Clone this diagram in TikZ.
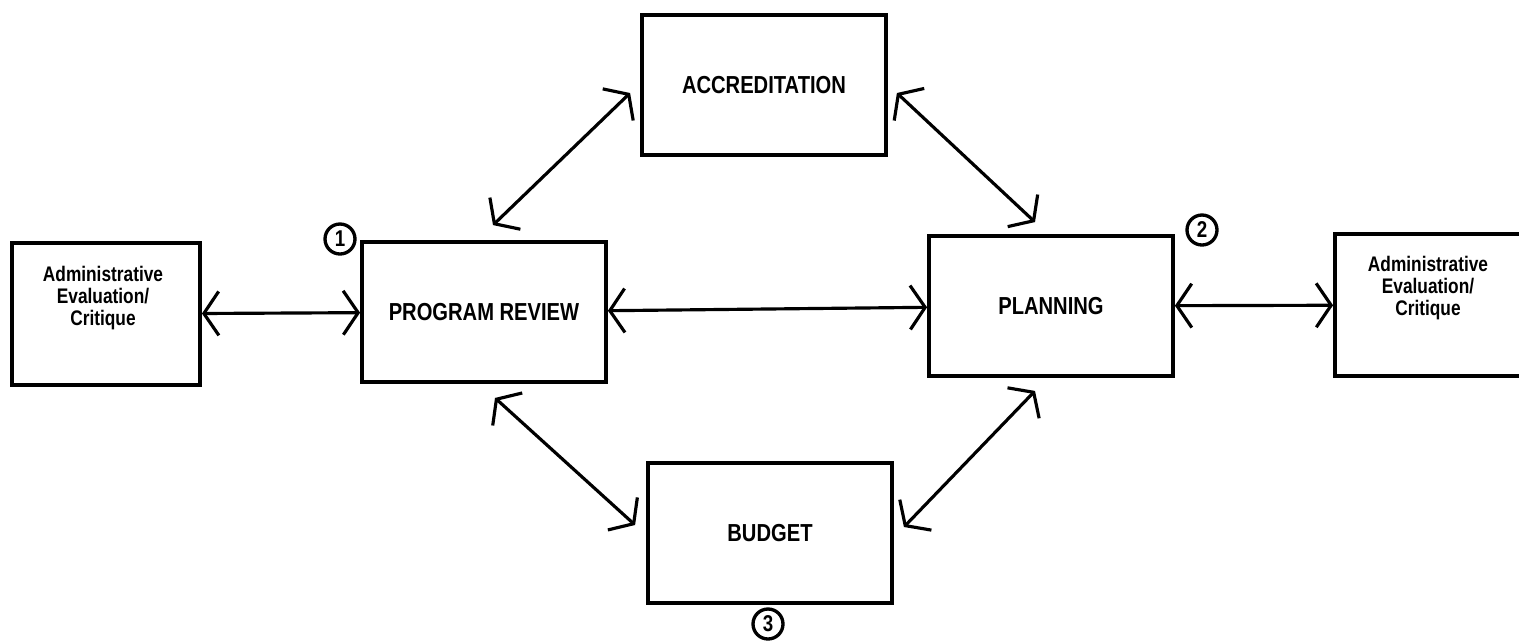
\documentclass[tikz,border=0pt]{standalone}
\usepackage{fontspec}
\setmainfont{Liberation Sans}[FakeStretch=0.82]
\usetikzlibrary{arrows.meta}

\begin{document}
\begin{tikzpicture}[
			x=0.02cm, y=-0.02cm,
			box/.style = {rectangle, draw, line width=2.2pt,% the five stages
				minimum width=4.88cm, minimum height=2.8cm,
				font=\bfseries\fontsize{14}{16}\selectfont},
			admin/.style = {box, minimum width=3.76cm, minimum height=2.84cm},
			lbl/.style = {align=center, inner sep=0pt,
				font=\bfseries\fontsize{12}{12.6}\selectfont},
			num/.style = {circle, draw, line width=1.9pt, minimum size=0.6cm,
				inner sep=0pt, font=\bfseries\fontsize{13}{13}\selectfont},
			V/.tip = {Straight Barb[length=8.5pt, width=25pt]},
			link/.style = {line width=1.8pt, V-V},
			]
			\useasboundingbox (0,0) rectangle (1519,640);
			% boxes
			\node[admin] (adminL) at (106,314) {};
			\node[lbl] (adminLtxt) at (103,298) {Administrative\\Evaluation/\\Critique};
			\node[box] (progrev) at (484,312) {PROGRAM REVIEW};
			\node[box] (accred) at (764,85) {ACCREDITATION};
			\node[box] (planning) at (1051,306) {PLANNING};
			\node[box] (budget) at (770,533) {BUDGET};
			\node[admin] (adminR) at (1429,305) {};
			\node[lbl] (adminRtxt) at (1428,288) {Administrative\\Evaluation/\\Critique};
			% circled numbers
			\node[num] (n1) at (340,239) {1};
			\node[num] (n2) at (1202,230) {2};
			\node[num] (n3) at (768,624) {3};
			% connectors
			\draw[link] (adminL) -- (progrev);
			\draw[link] (progrev) -- (planning);
			\draw[link] (planning) -- (adminR);
			\draw[link] ([shift={(9,-15)}]progrev.north) -- ([shift={(-10,8)}]accred.west);
			\draw[link] ([shift={(9,8)}]accred.east) -- ([shift={(-16,-12)}]planning.north);
			\draw[link] ([shift={(11,14)}]progrev.south) -- ([shift={(-11,-8)}]budget.west);
			\draw[link] ([shift={(-16,13)}]planning.south) -- ([shift={(10,-6)}]budget.east);
		\end{tikzpicture}
\end{document}
